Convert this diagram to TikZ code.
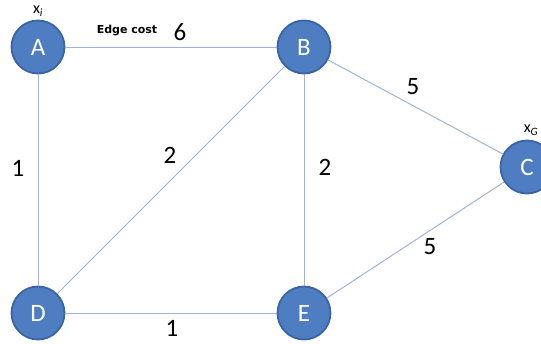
\documentclass[tikz,border=0pt]{standalone}
\usepackage{fontspec}
\setmainfont{Carlito}
\newfontfamily\ecfont{DejaVu Sans}
\begin{document}
\begin{tikzpicture}[x=1pt,y=-1pt,
  vtx/.style={circle,fill=nodeblue,draw=nodeedge,line width=1.8pt,minimum size=53pt,inner sep=0pt,text=white,font=\fontsize{25}{25}\selectfont},
  edge/.style={draw=edgeblue,line width=1pt},
  cost/.style={font=\fontsize{25}{25}\selectfont,text=black},
  lab/.style={font=\fontsize{16}{16}\selectfont,text=black}]
\definecolor{nodeblue}{HTML}{4F7DC2}
\definecolor{nodeedge}{HTML}{3A64A6}
\definecolor{edgeblue}{HTML}{9DB5DC}
\useasboundingbox (0,0) rectangle (541,343);
\clip (0,0) rectangle (541,343);
\node[vtx] (A) at (38,47) {A};
\node[vtx] (B) at (304,47) {B};
\node[vtx] (C) at (527,167) {C};
\node[vtx] (D) at (38,313) {D};
\node[vtx] (E) at (304,313) {E};
\draw[edge] (A) -- (B);
\draw[edge] (A) -- (D);
\draw[edge] (B) -- (D);
\draw[edge] (B) -- (E);
\draw[edge] (B) -- (C);
\draw[edge] (D) -- (E);
\draw[edge] (E) -- (C);
\node[lab] (xi) at (38,11) {x\textsubscript{\itshape i}};
\node[lab] (xg) at (531,130) {x\textsubscript{\itshape G}};
\node[font=\ecfont\bfseries\fontsize{11}{11}\selectfont] (ec) at (127,31) {Edge cost};
\node[cost] (c1) at (180,32) {6};
\node[cost] (c2) at (413,87) {5};
\node[cost] (c3) at (170,155) {2};
\node[cost] (c4) at (18,168) {1};
\node[cost] (c5) at (325,167) {2};
\node[cost] (c6) at (430,247) {5};
\node[cost] (c7) at (172,328) {1};
\end{tikzpicture}
\end{document}
